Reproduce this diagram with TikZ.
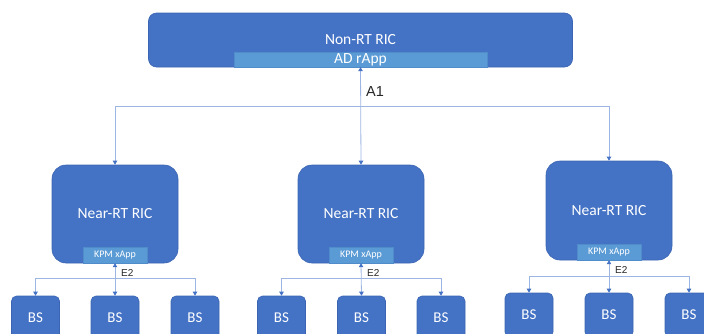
\documentclass[tikz,border=0pt]{standalone}
\usepackage{fontspec}
\setmainfont{Carlito}
\newfontfamily\labelfont{Liberation Sans}
\usetikzlibrary{arrows.meta}
\definecolor{boxblue}{HTML}{4472C4}
\definecolor{boxedge}{HTML}{3B65B3}
\definecolor{stripblue}{HTML}{5B9BD5}
\definecolor{stripedge}{HTML}{4F8CC9}
\definecolor{lineblue}{HTML}{9DB5E2}
\tikzset{
  bigbox/.style={draw=boxedge, line width=0.6pt, fill=boxblue, rounded corners=#1, text=white, font=\fontsize{15.5}{18}\selectfont, inner sep=0pt},
  stripbox/.style={draw=stripedge, line width=0.4pt, fill=stripblue, text=white, inner sep=0pt},
  bsbox/.style={draw=boxedge, line width=0.6pt, fill=boxblue, rounded corners=5pt, text=white, font=\fontsize{15}{18}\selectfont, inner sep=0pt, minimum width=48pt, minimum height=44pt},
  conn/.style={draw=lineblue, line width=0.8pt, arrows={-}},
  tip/.style={-{Triangle[width=4.5pt,length=4pt,fill=boxblue,color=boxblue]}},
  tips/.style={{Triangle[width=4.5pt,length=4pt,fill=boxblue,color=boxblue]}-{Triangle[width=4.5pt,length=4pt,fill=boxblue,color=boxblue]}},
  lbl/.style={font=\labelfont\fontsize{#1}{#1}\selectfont, text=black!85, inner sep=0pt}
}
\begin{document}
\begin{tikzpicture}[x=1pt,y=-1pt]
\useasboundingbox (0,0) rectangle (704,333);
\clip (0,0) rectangle (704,333);
% top box
\node[bigbox=8pt, minimum width=424pt, minimum height=54pt] (nonrt) at (360.5,40) {};
\node[text=white, font=\fontsize{15.5}{18}\selectfont, inner sep=0pt] (nonrtl) at (360.5,40) {Non-RT RIC};
\node[stripbox, minimum width=253pt, minimum height=15pt, font=\fontsize{15.5}{18}\selectfont] (rapp) at (360.5,59.5) {AD rApp};
% near-RT RICs
\node[bigbox=14pt, minimum width=126pt, minimum height=98pt] (n1) at (115,214) {Near-RT RIC};
\node[bigbox=14pt, minimum width=126pt, minimum height=98pt] (n2) at (361,214) {Near-RT RIC};
\node[bigbox=14pt, minimum width=126pt, minimum height=99pt] (n3) at (609,210.5) {Near-RT RIC};
\node[stripbox, minimum width=64pt, minimum height=16pt, font=\fontsize{10}{12}\selectfont] (x1) at (115,255) {KPM xApp};
\node[stripbox, minimum width=64pt, minimum height=16pt, font=\fontsize{10}{12}\selectfont] (x2) at (361,255) {KPM xApp};
\node[stripbox, minimum width=64pt, minimum height=16pt, font=\fontsize{10}{12}\selectfont] (x3) at (609,252) {KPM xApp};
% BS boxes
\node[bsbox] (b11) at (35.5,318) {BS};
\node[bsbox] (b12) at (115,318) {BS};
\node[bsbox] (b13) at (195,318) {BS};
\node[bsbox] (b21) at (281.5,318) {BS};
\node[bsbox] (b22) at (361.5,318) {BS};
\node[bsbox] (b23) at (441,318) {BS};
\node[bsbox] (b31) at (529,315) {BS};
\node[bsbox] (b32) at (609,315) {BS};
\node[bsbox] (b33) at (689,315) {BS};
% A1 connections
\coordinate (bus) at (361,106);
\draw[conn, tips] (rapp.south) -- (n2.north);
\draw[conn, tip] (bus) -| (n1.north);
\draw[conn, tip] (bus) -| (n3.north);
\node[lbl=14.5, anchor=west] (a1) at (366,92) {A1};
% E2 connections
\coordinate (e1) at (115,278);
\coordinate (e2) at (361,278);
\coordinate (e3) at (609,276);
\draw[conn, tips] (x1.south) -- (b12.north);
\draw[conn, tip] (e1) -| (b11.north);
\draw[conn, tip] (e1) -| (b13.north);
\draw[conn, tips] (x2.south) -- (b22.north);
\draw[conn, tip] (e2) -| (b21.north);
\draw[conn, tip] (e2) -| (b23.north);
\draw[conn, tips] (x3.south) -- (b32.north);
\draw[conn, tip] (e3) -| (b31.north);
\draw[conn, tip] (e3) -| (b33.north);
\node[lbl=10, anchor=west] (l1) at (121,273) {E2};
\node[lbl=10, anchor=west] (l2) at (367,273) {E2};
\node[lbl=10, anchor=west] (l3) at (615,270) {E2};
\end{tikzpicture}
\end{document}
